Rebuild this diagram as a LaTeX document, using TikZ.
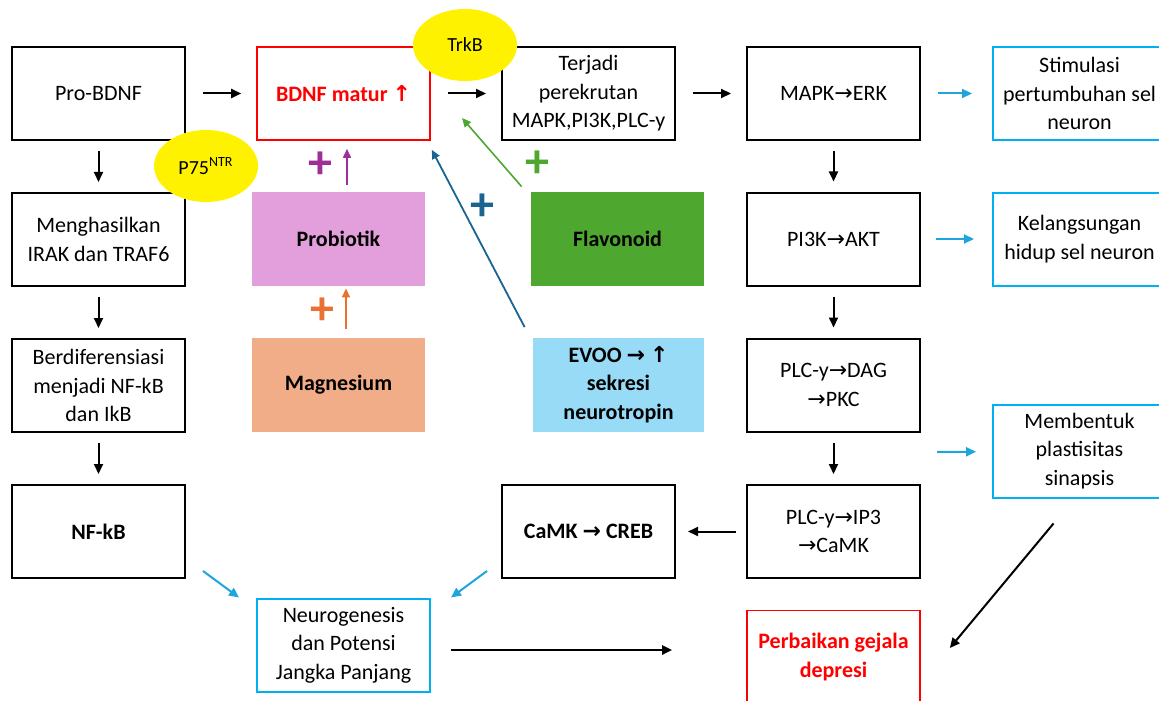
\documentclass[tikz,border=0pt]{standalone}
\usepackage{fontspec}
\setmainfont{Carlito}
\newfontfamily\arrowfont{DejaVu Sans}
\usetikzlibrary{arrows.meta,shapes.geometric}
\definecolor{cyanline}{HTML}{00B0F0}
\definecolor{cyanarrow}{HTML}{1FA5DD}
\definecolor{probiopink}{HTML}{E39FDB}
\definecolor{magnesorange}{HTML}{F1AC88}
\definecolor{flavogreen}{HTML}{4EA72E}
\definecolor{evooblue}{HTML}{97DBF7}
\definecolor{plusviolet}{HTML}{9E2F96}
\definecolor{plusorange}{HTML}{E97132}
\definecolor{plusblue}{HTML}{1B6491}
\newcommand\toarr{{\arrowfont\char"2192}}
\newcommand\uparr{{\arrowfont\char"2191}}
\begin{document}
\begin{tikzpicture}
[x=0.5pt, y=-0.5pt, font=\fontsize{11}{14.3}\selectfont,
every node/.style={align=center, inner sep=0pt},
box/.style={draw, line width=1pt, minimum width=86.5pt, minimum height=46.5pt},
bluebox/.style={box, draw=cyanline},
redbox/.style={box, draw=red, line width=0.8pt, text=red, font=\fontsize{11}{14.3}\selectfont\bfseries},
fillbox/.style={minimum width=86.5pt, minimum height=47pt, font=\fontsize{11}{14.3}\selectfont\bfseries},
receptor/.style={ellipse, fill=yellow, minimum width=52pt, minimum height=36pt},
plus/.style={font=\fontsize{24}{24}\selectfont\bfseries},
flow/.style={-{Triangle[length=5pt,width=4.5pt]}, line width=1pt, shorten <=8.5pt, shorten >=7.5pt},
down/.style={flow, shorten <=5pt, shorten >=5pt},
side/.style={flow, draw=cyanarrow, line width=1pt},
push/.style={-{Triangle[length=4.5pt,width=4pt]}, line width=0.8pt}]
\useasboundingbox (0,0) rectangle (1159,700);

% column 1
\node[box] (pro) at (98.5,93.5) {Pro-BDNF};
\node[box] (irak) at (98.5,239.5) {Menghasilkan\\IRAK dan TRAF6};
\node[box] (diff) at (98.5,385.5) {Berdiferensiasi\\menjadi NF-kB\\dan IkB};
\node[box, font=\fontsize{11}{14.3}\selectfont\bfseries] (nfkb) at (98.5,531.5) {NF-kB};

% column 2
\node[redbox] (bdnf) at (343.5,93.5) {BDNF matur \uparr};
\node[fillbox, fill=probiopink] (probio) at (338.5,239) {Probiotik};
\node[fillbox, fill=magnesorange] (magnes) at (338.5,384.5) {Magnesium};
\node[bluebox] (neuro) at (343.5,645) {Neurogenesis\\dan Potensi\\Jangka Panjang};

% column 3
\node[box] (rekrut) at (588.5,93.5) {Terjadi\\perekrutan\\MAPK,PI3K,PLC-y};
\node[fillbox, fill=flavogreen] (flavo) at (617.5,239) {Flavonoid};
\node[fillbox, fill=evooblue, minimum width=85.5pt] (evoo) at (618.5,384.5) {EVOO \toarr\ \uparr\\sekresi\\neurotropin};
\node[box, font=\fontsize{11}{14.3}\selectfont\bfseries] (camk) at (588.5,531.5) {CaMK \toarr\ CREB};

% column 4
\node[box] (mapk) at (833.5,93.5) {MAPK\toarr ERK};
\node[box] (akt) at (833.5,239) {PI3K\toarr AKT};
\node[box] (dag) at (833.5,385) {PLC-y\toarr DAG\\\toarr PKC};
\node[box] (ip3) at (833.5,531.5) {PLC-y\toarr IP3\\\toarr CaMK};
\node[redbox] (depresi) at (833.5,657) {Perbaikan gejala\\depresi};

% column 5
\node[bluebox] (stim) at (1079.5,93.5) {Stimulasi\\pertumbuhan sel\\neuron};
\node[bluebox] (hidup) at (1079.5,239) {Kelangsungan\\hidup sel neuron};
\node[bluebox] (sinaps) at (1079.5,451) {Membentuk\\plastisitas\\sinapsis};

% receptors
\node[receptor] (trkb) at (465,45) {\fontsize{10}{12}\selectfont TrkB};
\node[receptor] (p75) at (206,166) {\fontsize{10}{12}\selectfont P75\textsuperscript{NTR}};

% main pathway
\draw[flow] (pro) -- (bdnf);
\draw[flow] (bdnf) -- (rekrut);
\draw[flow] (rekrut) -- (mapk);
\draw[down] (pro) -- (irak);
\draw[down] (irak) -- (diff);
\draw[down] (diff) -- (nfkb);
\draw[down] (mapk) -- (akt);
\draw[down] (akt) -- (dag);
\draw[down] (dag) -- (ip3);
\draw[flow, shorten <=5pt, shorten >=6pt] (ip3) -- (camk);

% outcomes
\coordinate (dagout) at (937,452);
\draw[side, shorten >=10pt] (mapk) -- (stim);
\draw[side, shorten <=7.5pt, shorten >=9pt] (akt) -- (hidup);
\draw[side, shorten <=0pt, shorten >=8pt] (dagout) -- (sinaps);
\draw[side, shorten <=0pt, shorten >=0pt] ([shift={(17,-8)}]nfkb.south east) -- ([shift={(-17,0)}]neuro.north west);
\draw[side, shorten <=0pt, shorten >=0pt] ([shift={(-14,-8)}]camk.south west) -- ([shift={(20,0)}]neuro.north east);
\draw[flow, line width=1.2pt, shorten <=10pt, shorten >=37pt] ([yshift=-2.5pt]neuro.east) -- ([yshift=-2.5pt]neuro.east -| depresi.west);
\draw[flow, shorten <=0pt, shorten >=0pt] ([shift={(-26,25)}]sinaps.south) -- ([shift={(29,-9)}]depresi.east);

% supplements
\draw[push, plusviolet] ([shift={(8.5,-7)}]probio.north) -- ([shift={(3.5,8)}]bdnf.south);
\draw[push, plusorange] ([shift={(7.5,-8)}]magnes.north) -- ([shift={(7.5,2)}]probio.south);
\draw[push, plusblue, line width=0.9pt] ([shift={(-8,-10)}]evoo.north west) -- ([shift={(1,9)}]bdnf.south east);
\draw[push, flavogreen] ([shift={(-9,-5)}]flavo.north west) -- ([shift={(-39,-23)}]rekrut.south west);
\node[plus, text=plusviolet] (plusprobio) at (320,165) {+};
\node[plus, text=plusorange] (plusmagnes) at (322,311) {+};
\node[plus, text=plusblue] (plusevoo) at (482,207) {+};
\node[plus, text=flavogreen] (plusflavo) at (537,164) {+};
\end{tikzpicture}
\end{document}
